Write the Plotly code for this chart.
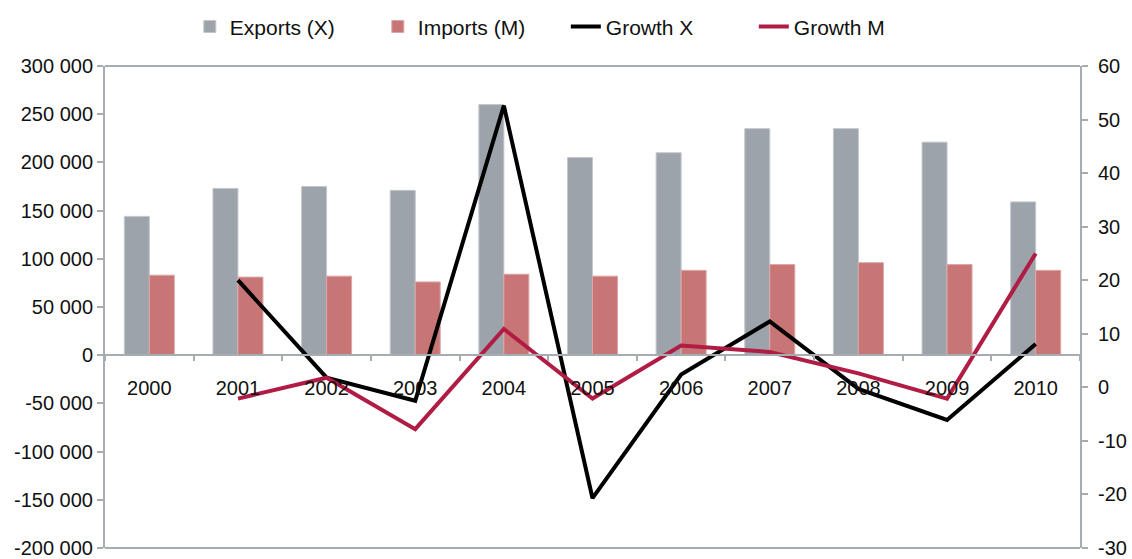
import plotly.graph_objects as go

years = ['2000', '2001', '2002', '2003', '2004', '2005', '2006', '2007', '2008', '2009', '2010']
exports = [144000, 173000, 175000, 171000, 260000, 205000, 210000, 235000, 235000, 221000, 159000]
imports = [83000, 81000, 82000, 76000, 84000, 82000, 88000, 94000, 96000, 94000, 88000]
growth_x = [None, 20.0, 1.8, -2.5, 52.6, -20.7, 2.4, 12.3, -0.3, -6.1, 8.1]
growth_m = [None, -2.1, 1.8, -7.8, 10.9, -2.1, 7.8, 6.6, 2.6, -2.1, 25.0]

left_ticks = [-200000, -150000, -100000, -50000, 0, 50000, 100000, 150000, 200000, 250000, 300000]
left_labels = ['-200 000', '-150 000', '-100 000', '-50 000', '0', '50 000', '100 000',
               '150 000', '200 000', '250 000', '300 000']
right_ticks = [-30, -20, -10, 0, 10, 20, 30, 40, 50, 60]
right_labels = ['-30', '-20', '-10', '0', '10', '20', '30', '40', '50', '60']

AXIS = '#A7ACB2'
FONT = 'Liberation Sans, Arial, sans-serif'

fig = go.Figure()
fig.add_trace(go.Bar(x=years, y=exports, name='Exports (X)',
                     marker=dict(color='#9DA3AB', line=dict(color='#C3C7CC', width=1))))
fig.add_trace(go.Bar(x=years, y=imports, name='Imports (M)',
                     marker=dict(color='#C87575', line=dict(color='#DDA5A5', width=1))))
fig.add_trace(go.Scatter(x=years, y=growth_x, name='Growth X', mode='lines',
                         line=dict(color='#000000', width=4), yaxis='y2'))
fig.add_trace(go.Scatter(x=years, y=growth_m, name='Growth M', mode='lines',
                         line=dict(color='#B01C44', width=4), yaxis='y2'))

fig.update_layout(
    width=1132, height=559,
    margin=dict(l=105, r=52, t=66, b=11),
    paper_bgcolor='white', plot_bgcolor='white',
    font=dict(family=FONT, size=20, color='#111111'),
    barmode='group', bargap=0.436, bargroupgap=0,
    showlegend=True,
    legend=dict(orientation='h', x=0.087, xanchor='left',
                yref='container', y=0.952, yanchor='middle',
                entrywidth=143, font=dict(size=21), bgcolor='rgba(0,0,0,0)'),
    xaxis=dict(type='category', anchor='free', position=0.4004, automargin=False,
               showline=True, linecolor=AXIS, linewidth=2,
               ticks='outside', tickson='boundaries', ticklen=5, tickcolor=AXIS, tickwidth=2,
               ticklabelstandoff=15, showgrid=False, zeroline=False),
    yaxis=dict(range=[-200000, 300000], tickvals=left_ticks, ticktext=left_labels,
               automargin=False,
               showline=True, linecolor=AXIS, linewidth=2,
               ticks='outside', ticklen=6, tickcolor=AXIS, tickwidth=2,
               showgrid=False, zeroline=False),
    yaxis2=dict(range=[-30, 60], tickvals=right_ticks, ticktext=right_labels,
                overlaying='y', side='right', automargin=False,
                showline=True, linecolor=AXIS, linewidth=2,
                ticks='outside', ticklen=6, tickcolor=AXIS, tickwidth=2,
                ticklabelstandoff=6, showgrid=False, zeroline=False),
)

# frame lines top and bottom
for yy in (0, 1):
    fig.add_shape(type='line', xref='paper', yref='paper', x0=0, x1=1, y0=yy, y1=yy,
                  line=dict(color=AXIS, width=2), layer='below')

# page body has a default 8px margin; drop it so the figure sits at the window origin
fig.write_html("out.html", config={'displayModeBar': False},
               post_script="document.body.style.margin='0';")
